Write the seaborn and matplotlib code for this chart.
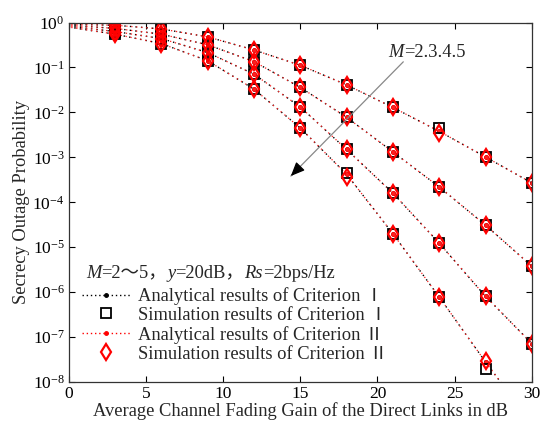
import numpy as np
import pandas as pd
import matplotlib
matplotlib.use("Agg")
import matplotlib.pyplot as plt
import matplotlib.transforms as mtransforms
import seaborn as sns
from matplotlib.lines import Line2D
from matplotlib.ticker import NullLocator, FixedLocator, LogFormatterSciNotation

# ---------------- data ----------------
x_line = [0, 3, 6, 9, 12, 15, 18, 21, 24, 27, 30]
x_sim = [3, 6, 9, 12, 15, 18, 21, 24, 27, 30]

# analytical results (criterion I and II coincide)
ana_M2 = [0.91, 0.87, 0.72, 0.48, 0.245, 0.112, 4.1e-2, 1.29e-2, 3.8e-3, 1.02e-3, 2.7e-4]
ana_M3 = [0.87, 0.74, 0.55, 0.32, 0.135, 3.6e-2, 7.8e-3, 1.32e-3, 2.2e-4, 3.1e-5, 3.8e-6]
ana_M4 = [0.83, 0.63, 0.44, 0.214, 7.1e-2, 1.32e-2, 1.5e-3, 1.6e-4, 1.23e-5, 8.1e-7, 7.2e-8]
ana_M5 = [0.79, 0.55, 0.34, 0.141, 3.3e-2, 4.5e-3, 4.2e-4, 2.0e-5, 7.8e-7, 2.8e-8, 1.2e-9]

# simulation results, criterion I (squares)
sim1_M2 = [0.87, 0.72, 0.48, 0.245, 0.112, 4.1e-2, 1.29e-2, 4.4e-3, 1.02e-3, 2.7e-4]
sim1_M3 = [0.74, 0.55, 0.32, 0.135, 3.6e-2, 7.8e-3, 1.32e-3, 2.2e-4, 3.1e-5, 3.8e-6]
sim1_M4 = [0.63, 0.44, 0.214, 7.1e-2, 1.32e-2, 1.5e-3, 1.6e-4, 1.23e-5, 8.1e-7, 7.2e-8]
sim1_M5 = [0.55, 0.34, 0.141, 3.3e-2, 4.5e-3, 4.5e-4, 2.0e-5, 7.8e-7, 2.0e-8]

# simulation results, criterion II (diamonds)
sim2_M2 = [0.87, 0.72, 0.48, 0.245, 0.112, 4.1e-2, 1.29e-2, 3.4e-3, 1.02e-3, 2.7e-4]
sim2_M3 = [0.74, 0.55, 0.32, 0.135, 3.6e-2, 7.8e-3, 1.32e-3, 2.2e-4, 3.1e-5, 3.8e-6]
sim2_M4 = [0.63, 0.44, 0.214, 7.1e-2, 1.32e-2, 1.5e-3, 1.6e-4, 1.23e-5, 8.1e-7, 7.2e-8]
sim2_M5 = [0.55, 0.34, 0.141, 3.3e-2, 4.5e-3, 3.6e-4, 2.0e-5, 7.8e-7, 3.0e-8]

legend_labels = [
    "Analytical results of Criterion \u2160",
    "Simulation results of Criterion \u2160",
    "Analytical results of Criterion \u2161",
    "Simulation results of Criterion \u2161",
]
x_ticks = [0, 5, 10, 15, 20, 25, 30]
y_ticks = [1e-8, 1e-7, 1e-6, 1e-5, 1e-4, 1e-3, 1e-2, 1e-1, 1e0]

# ---------------- style ----------------
sns.set_theme(style="ticks")
plt.rcParams["font.family"] = ["Liberation Serif", "Noto Sans CJK SC", "DejaVu Sans"]
plt.rcParams["mathtext.fontset"] = "stix"
plt.rcParams["axes.unicode_minus"] = True

fig = plt.figure(figsize=(5.46, 4.25), dpi=100)
fig.patch.set_facecolor("white")
ax = fig.add_axes([0.126, 0.101, 0.848, 0.846])
ax.set_facecolor("white")
ax.set_yscale("log")

ana_all = [ana_M2, ana_M3, ana_M4, ana_M5]
sim1_all = [sim1_M2, sim1_M3, sim1_M4, sim1_M5]
sim2_all = [sim2_M2, sim2_M3, sim2_M4, sim2_M5]

BLACK_LS = (0, (1, 3))
RED_LS = (2, (1, 3))
mk_every = list(range(1, len(x_line)))

for vals in ana_all:
    sns.lineplot(x=x_line, y=vals, ax=ax, color="black", linestyle=BLACK_LS, lw=1.0,
                 marker=".", markersize=5, markeredgecolor="black", markeredgewidth=0.5,
                 markevery=mk_every, estimator=None, sort=False)
for vals in ana_all:
    sns.lineplot(x=x_line, y=vals, ax=ax, color="#ff2020", linestyle=RED_LS, lw=0.9,
                 marker=".", markersize=6, markeredgecolor="red", markeredgewidth=0.5,
                 markevery=mk_every, estimator=None, sort=False)
for vals in sim1_all:
    sns.lineplot(x=x_sim[:len(vals)], y=vals, ax=ax, color="black", linestyle="none",
                 marker="s", markersize=7, markerfacecolor="none",
                 markeredgecolor="black", markeredgewidth=1.3, estimator=None, sort=False)
for vals in sim2_all:
    sns.lineplot(x=x_sim[:len(vals)], y=vals, ax=ax, color="red", linestyle="none",
                 marker="d", markersize=8, markerfacecolor="none",
                 markeredgecolor="red", markeredgewidth=1.6, estimator=None, sort=False)

ax.set_xlim(0, 30)
ax.set_ylim(1e-8, 1)
ax.xaxis.set_major_locator(FixedLocator(x_ticks))
ax.yaxis.set_major_locator(FixedLocator(y_ticks))
ax.yaxis.set_major_formatter(LogFormatterSciNotation())
ax.yaxis.set_minor_locator(NullLocator())
ax.xaxis.set_minor_locator(NullLocator())
ax.tick_params(direction="in", top=True, right=True, length=4, width=0.8,
               labelsize=12.5, colors="black", pad=3)
for s in ax.spines.values():
    s.set_color("#333333")
    s.set_linewidth(0.9)

ax.set_xlabel("Average Channel Fading Gain of the Direct Links in dB", fontsize=13.3, labelpad=0)
ax.set_ylabel("Secrecy Outage Probability", fontsize=13.3, labelpad=2)

# legend
handles = [
    Line2D([], [], color="black", linestyle=(0, (1, 2)), lw=1, marker=".", markersize=5),
    Line2D([], [], color="black", linestyle="none", marker="s", markersize=7,
           markerfacecolor="none", markeredgewidth=1.3),
    Line2D([], [], color="red", linestyle=(0, (1, 2)), lw=1, marker=".", markersize=5),
    Line2D([], [], color="red", linestyle="none", marker="d", markersize=8,
           markerfacecolor="none", markeredgewidth=1.6),
]
leg = ax.legend(handles, legend_labels, loc="lower left", bbox_to_anchor=(0.017, 0.039),
                borderaxespad=0, frameon=True, fancybox=False, framealpha=1,
                facecolor="white", edgecolor="white", fontsize=13.3,
                handlelength=2.6, handletextpad=0.4, borderpad=0.3, labelspacing=0.1)

renderer = fig.canvas.get_renderer()


def chain_text(ax, x, y, segs, size, transform):
    """Place text segments (some italic) one after another on a common baseline."""
    offset = 0.0
    for s, st in segs:
        tr = mtransforms.offset_copy(transform, fig=fig, x=offset, y=0, units="dots")
        t = ax.text(x, y, s, transform=tr, fontsize=size, style=st,
                    va="baseline", ha="left")
        offset += t.get_window_extent(renderer=renderer).width


chain_text(ax, 0.037, 0.29,
           [("M", "italic"), ("=2\uff5e5\uff0c", "normal"), ("y", "italic"),
            ("=20dB\uff0c", "normal"), ("Rs", "italic"), ("=2bps/Hz", "normal")],
           13.3, ax.transAxes)

# arrow indicating increasing M
tip = (14.26, 10 ** -3.46)
ax.annotate("", xy=tip, xytext=(21.8, 10 ** -0.83),
            arrowprops=dict(arrowstyle="-", color="#888888", lw=0.9))
ax.annotate("", xy=tip, xytext=(14.8, 10 ** -3.27),
            arrowprops=dict(arrowstyle="-|>,head_length=0.7,head_width=0.3", color="black", lw=0.9))
chain_text(ax, 20.7, 10 ** -0.77, [("M", "italic"), ("=2.3.4.5", "normal")], 13.3, ax.transData)

fig.savefig("out.png", dpi=100, facecolor="white")
